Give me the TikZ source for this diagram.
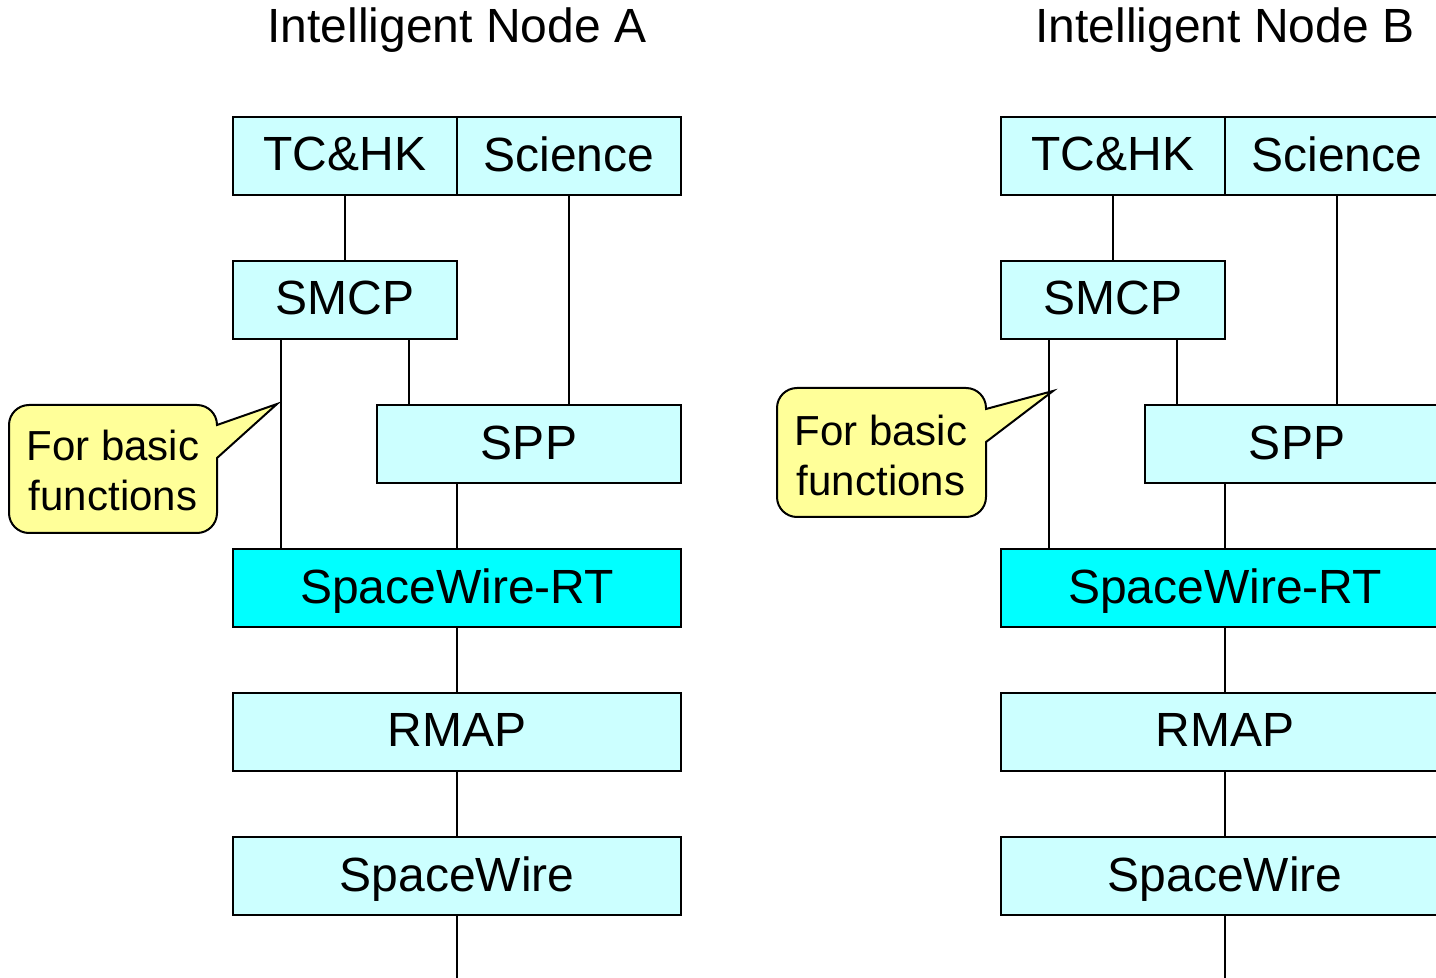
\documentclass[tikz,border=0pt]{standalone}
\usepackage{fontspec}
\setmainfont{Liberation Sans}
\usepackage{tikz}

\definecolor{boxcyan}{HTML}{CCFFFF}
\definecolor{rtcyan}{HTML}{00FFFF}
\definecolor{noteyellow}{HTML}{FFFF99}

\begin{document}
\begin{tikzpicture}[x=0.5pt, y=-0.5pt,
  box/.style={draw, line width=1pt, fill=boxcyan, inner sep=0pt, minimum height=39pt,
    text depth=2pt, font=\fontsize{24}{28}\selectfont},
  wide/.style={box, minimum width=224pt},
  half/.style={box, minimum width=112pt},
  sppbox/.style={box, minimum width=152pt},
  rtbox/.style={wide, fill=rtcyan},
  wire/.style={line width=1pt},
  bubble/.style={draw, line width=1pt, fill=noteyellow},
  note/.style={align=center, font=\fontsize{21}{25}\selectfont},
  title/.style={font=\fontsize{24}{28}\selectfont}]
\useasboundingbox (0,0) rectangle (1436,978);
\clip (0,0) rectangle (1436,978);
        \node[title] (titleA) at (457, 30) {Intelligent Node A}; % Node.A 
\node[title] (titleB) at (1225, 30) {Intelligent Node B}; % Node.B 
\node[half] (tchkA) at (345, 156) {TC\&HK}; % Layer.A.0 
\node[half] (sciA) at (569, 156) {Science}; % Layer.A.1 
\node[half] (smcpA) at (345, 300) {SMCP}; % Layer.A.2 
\node[sppbox] (sppA) at (529, 444.5) {SPP}; % Layer.A.3 
\node[rtbox] (swrtA) at (457, 588) {SpaceWire-RT}; % Layer.A.4 
\node[wide] (rmapA) at (457, 732) {RMAP}; % Layer.A.5 
\node[wide] (swA) at (457, 876) {SpaceWire}; % Layer.A.6 
\coordinate (endA) at (457, 978); % Link.A 
\node[half] (tchkB) at (1113, 156) {TC\&HK}; % Layer.B.0 
\node[half] (sciB) at (1337, 156) {Science}; % Layer.B.1 
\node[half] (smcpB) at (1113, 300) {SMCP}; % Layer.B.2 
\node[sppbox] (sppB) at (1297, 444.5) {SPP}; % Layer.B.3 
\node[rtbox] (swrtB) at (1225, 588) {SpaceWire-RT}; % Layer.B.4 
\node[wide] (rmapB) at (1225, 732) {RMAP}; % Layer.B.5 
\node[wide] (swB) at (1225, 876) {SpaceWire}; % Layer.B.6 
\coordinate (endB) at (1225, 978); % Link.B 
\draw[wire] (tchkA.south) -- (smcpA.north); % A.0-2 
\draw[wire] (sciA.south) -- (sciA.south |- sppA.north); % A.1-3 
\draw[wire] ([xshift=32pt]smcpA.south) -- ([xshift=32pt]smcpA.south |- sppA.north); % A.2-3 
\draw[wire] ([xshift=-32pt]smcpA.south) -- ([xshift=-32pt]smcpA.south |- swrtA.north); % A.2-4 
\draw[wire] (swrtA.north) -- (swrtA.north |- sppA.south); % A.3-4 
\draw[wire] (swrtA.south) -- (rmapA.north); % A.4-5 
\draw[wire] (rmapA.south) -- (swA.north); % A.5-6 
\draw[wire] (swA.south) -- (endA); % A.6-end 
\draw[wire] (tchkB.south) -- (smcpB.north); % B.0-2 
\draw[wire] (sciB.south) -- (sciB.south |- sppB.north); % B.1-3 
\draw[wire] ([xshift=32pt]smcpB.south) -- ([xshift=32pt]smcpB.south |- sppB.north); % B.2-3 
\draw[wire] ([xshift=-32pt]smcpB.south) -- ([xshift=-32pt]smcpB.south |- swrtB.north); % B.2-4 
\draw[wire] (swrtB.north) -- (swrtB.north |- sppB.south); % B.3-4 
\draw[wire] (swrtB.south) -- (rmapB.north); % B.4-5 
\draw[wire] (rmapB.south) -- (swB.north); % B.5-6 
\draw[wire] (swB.south) -- (endB); % B.6-end 
\coordinate (tipA) at (277, 404); % Note.A 
\draw[bubble] (217, 458) [rounded corners=10pt] -- (217, 533) -- (9, 533) -- (9, 405) -- (217, 405) [sharp corners] -- (217, 425) -- (tipA) -- cycle; % Note.A 
\node[note] (noteA) at (113, 470) {For basic\\functions}; % Note.A 
\coordinate (tipB) at (1053, 391); % Note.B 
\draw[bubble] (986, 442) [rounded corners=10pt] -- (986, 517) -- (777, 517) -- (777, 388) -- (986, 388) [sharp corners] -- (986, 409) -- (tipB) -- cycle; % Note.B 
\node[note] (noteB) at (881, 455) {For basic\\functions}; % Note.B 

        \end{tikzpicture}
\end{document}
